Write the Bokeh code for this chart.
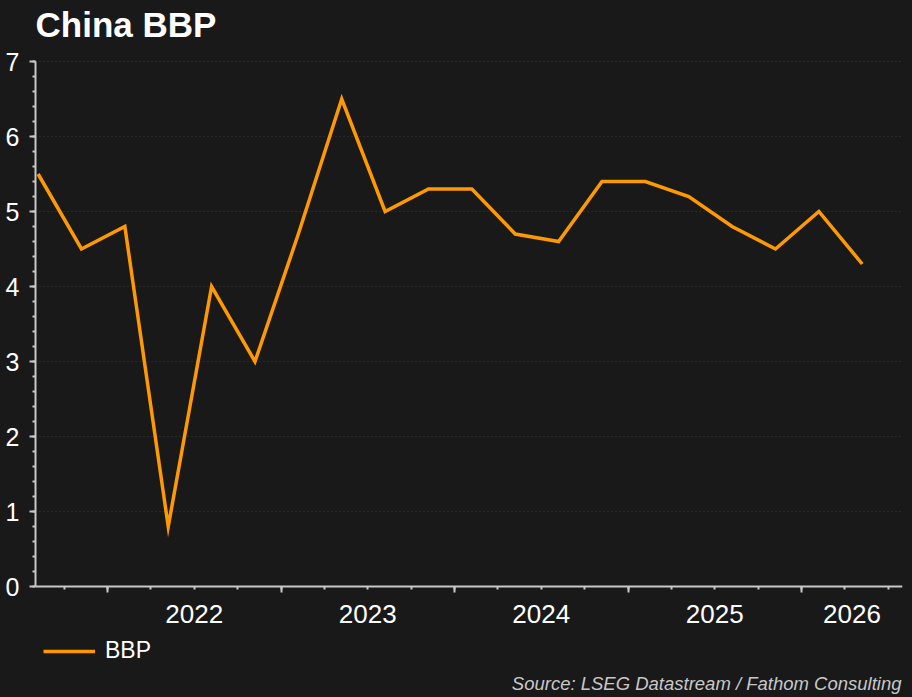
from bokeh.plotting import figure
from bokeh.models import (Range1d, FixedTicker, LinearAxis, Legend, LegendItem, Label)
from bokeh.embed import file_html
from bokeh.resources import INLINE

# ---- data ----
quarters = ["2021Q3", "2021Q4", "2022Q1", "2022Q2", "2022Q3", "2022Q4",
            "2023Q1", "2023Q2", "2023Q3", "2023Q4", "2024Q1", "2024Q2",
            "2024Q3", "2024Q4", "2025Q1", "2025Q2", "2025Q3", "2025Q4",
            "2026Q1", "2026Q2"]
bbp = [5.5, 4.5, 4.8, 0.8, 4.0, 3.0, 4.7, 6.5, 5.0, 5.3, 5.3, 4.7,
       4.6, 5.4, 5.4, 5.2, 4.8, 4.5, 5.0, 4.3]
year_labels = ["2022", "2023", "2024", "2025", "2026"]
y_ticks = [0, 1, 2, 3, 4, 5, 6, 7]
title_text = "China BBP"
source_text = "Source: LSEG Datastream / Fathom Consulting"
series_name = "BBP"

# quarter -> decimal year (observation dated inside the quarter)
def q_pos(q):
    return int(q[:4]) + (int(q[5]) - 1) * 0.25 + 0.1

xs = [q_pos(q) for q in quarters]
x_start, x_end = 2021.585, 2026.582
y_top = y_ticks[-1]

BG = "#191919"
AX = "#c8c8c8"
FONT = "Liberation Sans"

# layout geometry (px)
PLOT_H = 525            # height of the 0..7 value area
ABOVE = 17              # free space above the top tick
BELOW = 111             # space under the zero line for labels, legend, source
FRAME_H = ABOVE + PLOT_H + BELOW
unit_px = PLOT_H / y_top

p = figure(width=912, height=697, frame_width=867, frame_height=FRAME_H,
           output_backend="svg", toolbar_location=None,
           x_range=Range1d(x_start, x_end),
           y_range=Range1d(-BELOW / unit_px, (PLOT_H + ABOVE) / unit_px),
           background_fill_color=BG, border_fill_color=BG,
           min_border_left=35, min_border_right=10, min_border_top=44,
           min_border_bottom=0, outline_line_color=None)

r = p.line(xs, bbp, line_color="#ff9900", line_width=3.5, line_join="miter")

# title
p.title.text = title_text
p.title.text_color = "white"
p.title.text_font = FONT
p.title.text_font_style = "bold"
p.title.text_font_size = "35px"
p.title.align = "left"
p.title.offset = 0
p.title.standoff = 2

# y axis
ya = p.yaxis[0]
ya.bounds = (0, y_top)
ya.ticker = FixedTicker(ticks=y_ticks,
                        minor_ticks=[i / 5 for i in range(0, 36)])
ya.axis_line_color = AX
ya.axis_line_width = 2
ya.major_tick_line_color = AX
ya.major_tick_line_width = 2
ya.minor_tick_line_color = AX
ya.minor_tick_line_width = 2
ya.major_tick_in = 0
ya.major_tick_out = 6
ya.minor_tick_in = 0
ya.minor_tick_out = 3
ya.major_label_text_color = "white"
ya.major_label_text_font = FONT
ya.major_label_text_font_size = "25px"
ya.major_label_standoff = 10

# x axis at zero: tick marks (year boundaries long, quarters short)
years_int = [int(y) for y in year_labels]
xa = p.xaxis[0]
xa.fixed_location = 0
xa.ticker = FixedTicker(ticks=years_int,
                        minor_ticks=[2021 + i * 0.25 for i in range(0, 24)])
xa.axis_line_color = AX
xa.axis_line_width = 2
xa.major_tick_line_color = AX
xa.major_tick_line_width = 2
xa.minor_tick_line_color = AX
xa.minor_tick_line_width = 2
xa.major_tick_in = 0
xa.major_tick_out = 6
xa.minor_tick_in = 0
xa.minor_tick_out = 3
xa.major_label_text_color = None
xa.major_label_overrides = {y: "" for y in years_int}

# x axis labels centred on visible part of each year
label_pos = [(max(y, x_start) + min(y + 1, x_end)) / 2 for y in years_int]
xb = LinearAxis(ticker=FixedTicker(ticks=label_pos, minor_ticks=[]),
                major_label_overrides={lp: lab for lp, lab in zip(label_pos, year_labels)})
xb.fixed_location = 0
xb.axis_line_color = None
xb.major_tick_line_color = None
xb.minor_tick_line_color = None
xb.major_tick_in = 0
xb.major_tick_out = 0
xb.major_label_text_color = "white"
xb.major_label_text_font = FONT
xb.major_label_text_font_size = "26px"
xb.major_label_standoff = 18
p.add_layout(xb, "below")

# grid
p.xgrid.grid_line_color = None
p.ygrid.ticker = FixedTicker(ticks=y_ticks)
p.ygrid.grid_line_color = "#3c3c3c"
p.ygrid.grid_line_dash = "1 3"
p.ygrid.grid_line_width = 1

# legend under the axis labels
legend = Legend(items=[LegendItem(label=series_name, renderers=[r])],
                location=(8, 33), orientation="horizontal",
                background_fill_alpha=0, border_line_alpha=0,
                glyph_width=52, glyph_height=24, label_height=24,
                label_standoff=10, padding=0, margin=0, spacing=0,
                label_text_color="white", label_text_font=FONT,
                label_text_font_size="23px")
p.add_layout(legend, "center")

# source note
p.add_layout(Label(x=866, y=14, x_units="screen", y_units="screen",
                   text=source_text, text_color="#c8c8c8", text_font=FONT,
                   text_font_style="italic", text_font_size="18.5px",
                   text_baseline="alphabetic", text_align="right"))

html = file_html(p, INLINE)
html = html.replace("</head>", "<style>body{background-color:#191919;}</style></head>", 1)
open("out.html", "w").write(html)
